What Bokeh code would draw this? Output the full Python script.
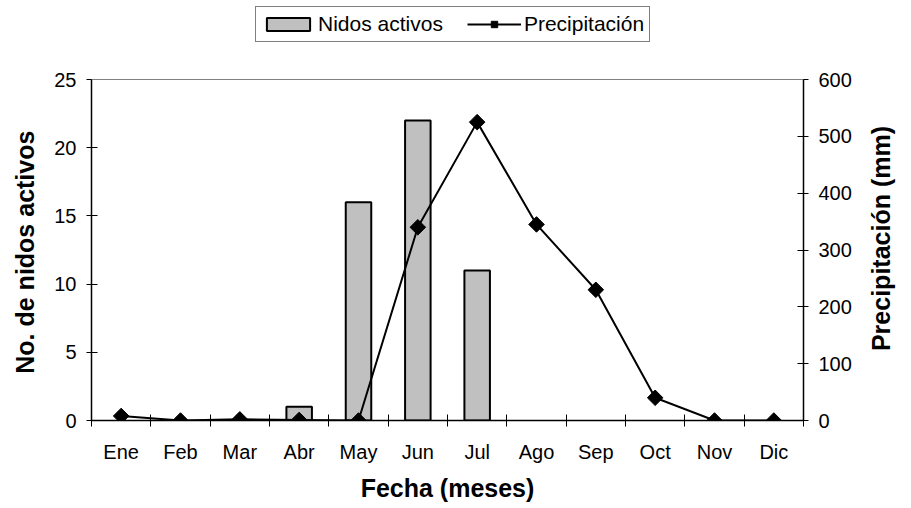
import numpy as np
from bokeh.plotting import figure
from bokeh.models import (Range1d, LinearAxis, FixedTicker, Legend, LegendItem,
                          ColumnDataSource, Span)
from bokeh.embed import file_html
from bokeh.resources import INLINE

months = ["Ene", "Feb", "Mar", "Abr", "May", "Jun", "Jul", "Ago", "Sep", "Oct", "Nov", "Dic"]
nidos = [0, 0, 0, 1, 16, 22, 11, 0, 0, 0, 0, 0]
precip = [8, 0, 2, 1, 0, 340, 525, 345, 230, 40, 0, 0]
left_ticks = [0, 5, 10, 15, 20, 25]
right_ticks = [0, 100, 200, 300, 400, 500, 600]
left_max, right_max = 25, 600

FONT = "Liberation Sans"
FRAME_H = 420     # frame height in px (includes the legend strip on top)
AXIS_H = 341      # height of the axes part
scale = FRAME_H / AXIS_H
NB = "\u00a0"

xs = [i + 0.5 for i in range(len(months))]
src_bar = ColumnDataSource(dict(x=[xs[i] for i, v in enumerate(nidos) if v > 0],
                                top=[v for v in nidos if v > 0]))
src_line = ColumnDataSource(dict(x=xs, y=precip))

p = figure(width=911, height=508, output_backend="svg", toolbar_location=None,
           x_range=Range1d(0, 12), y_range=Range1d(0, left_max * scale),
           min_border_left=91, min_border_right=95, min_border_top=0, min_border_bottom=88,
           x_axis_type=None, y_axis_type=None)
p.extra_y_ranges = {"precip": Range1d(0, right_max * scale)}
p.grid.visible = False
p.outline_line_color = None
p.background_fill_color = "white"
p.border_fill_color = "white"

# gray top border of the plot area
p.add_layout(Span(location=left_max, dimension="width", line_color="#808080", line_width=1))

bars = p.vbar(x="x", top="top", width=0.43, bottom=0, source=src_bar,
              fill_color="#C0C0C0", line_color="black", line_width=2)
line = p.line(x="x", y="y", source=src_line, y_range_name="precip",
              line_color="black", line_width=2)
pts = p.scatter(x="x", y="y", source=src_line, y_range_name="precip",
                marker="square", angle=np.pi / 4, size=11,
                fill_color="black", line_color="black")

# x axis
xax = LinearAxis(ticker=FixedTicker(ticks=xs, minor_ticks=list(range(13))),
                 major_label_overrides={x: m for x, m in zip(xs, months)})
xax.axis_label = "Fecha (meses)"
xax.major_tick_line_color = None
xax.major_tick_out = 6
xax.major_tick_in = 0
xax.minor_tick_line_color = "black"
xax.minor_tick_in = 6
xax.minor_tick_out = 6
xax.major_label_standoff = 14
xax.axis_label_standoff = 8
p.add_layout(xax, "below")

yl = LinearAxis(ticker=FixedTicker(ticks=left_ticks), bounds=(0, left_max))
yl.axis_label = "No. de nidos activos" + NB * 12
yl.axis_label_standoff = 12
p.add_layout(yl, "left")

yr = LinearAxis(ticker=FixedTicker(ticks=right_ticks), y_range_name="precip",
                bounds=(0, right_max))
yr.axis_label = NB * 10 + "Precipitación (mm)"
yr.axis_label_orientation = np.pi / 2
yr.axis_label_align = "start"
yr.axis_label_standoff = 26
p.add_layout(yr, "right")

for ax in (xax, yl, yr):
    ax.axis_line_color = "black"
    ax.axis_line_width = 1.5
    ax.major_label_text_font = FONT
    ax.major_label_text_font_size = "20px"
    ax.major_label_text_color = "black"
    ax.axis_label_text_font = FONT
    ax.axis_label_text_font_size = "25px"
    ax.axis_label_text_font_style = "bold"
    ax.axis_label_text_color = "black"

for ax in (yl, yr):
    ax.minor_tick_line_color = None
    ax.major_tick_in = 6
    ax.major_tick_out = 5
    ax.major_tick_line_color = "black"
    ax.major_label_standoff = 10

legend = Legend(items=[LegendItem(label="Nidos activos", renderers=[bars]),
                       LegendItem(label="Precipitación", renderers=[line, pts])],
                orientation="horizontal", location=(164, FRAME_H - 42))
legend.label_text_font = FONT
legend.label_text_font_size = "21px"
legend.label_text_color = "black"
legend.glyph_width = 54
legend.glyph_height = 16
legend.label_standoff = 3
legend.spacing = 24
legend.padding = 5
legend.margin = 0
legend.border_line_color = "black"
legend.border_line_width = 1
legend.background_fill_alpha = 1
p.add_layout(legend, "center")

open("out.html", "w").write(file_html(p, INLINE))
